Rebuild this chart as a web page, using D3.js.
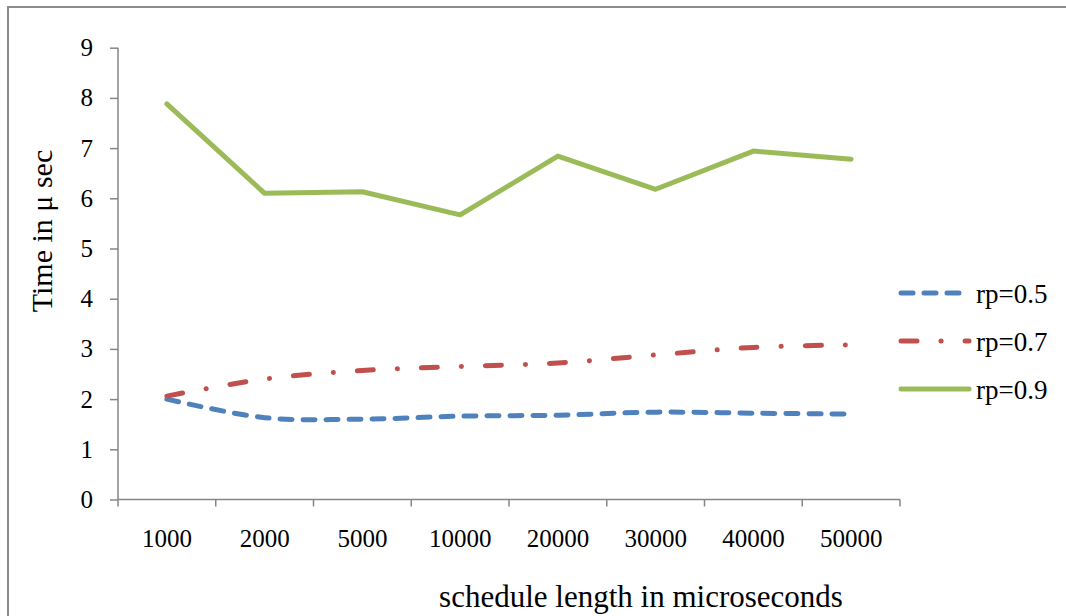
<!DOCTYPE html>
<html>
<head>
<meta charset="utf-8">
<script src="https://cdn.jsdelivr.net/npm/d3@7"></script>
<style>
  body { margin: 0; background: #fff; }
  text { font-family: "Liberation Serif", "Times New Roman", serif; fill: #000; }
</style>
</head>
<body>
<div id="container"></div>
<script>
let w = 1066;
let h = 616;

// data
let categories = ["1000", "2000", "5000", "10000", "20000", "30000", "40000", "50000"];
let rp05 = [2.0, 1.63, 1.6, 1.66, 1.68, 1.74, 1.72, 1.70];
let rp07 = [2.06, 2.40, 2.57, 2.65, 2.72, 2.88, 3.03, 3.08];
let rp09 = [7.88, 6.10, 6.13, 5.67, 6.84, 6.18, 6.94, 6.78];
let yTicks = [0, 1, 2, 3, 4, 5, 6, 7, 8, 9];
let seriesNames = ["rp=0.5", "rp=0.7", "rp=0.9"];

let series = [
  {name: seriesNames[0], values: rp05, color: "#4F81BD", dash: "12,11", smooth: true},
  {name: seriesNames[1], values: rp07, color: "#C0504D", dash: "16,24,0.1,24", smooth: true},
  {name: seriesNames[2], values: rp09, color: "#9BBB59", dash: null, smooth: false}
];

let viz = d3.select("#container")
  .append("svg")
    .attr("width", w)
    .attr("height", h)
;

// outer frame (only top and left visible in the picture)
viz.append("rect")
  .attr("x", 8).attr("y", 7)
  .attr("width", 1100).attr("height", 700)
  .attr("fill", "none")
  .attr("stroke", "#8c8c8c")
  .attr("stroke-width", 2);

let plotLeft = 118, plotRight = 900, plotTop = 47.7, plotBottom = 499.5;

let xScale = d3.scaleBand().domain(categories).range([plotLeft, plotRight]);
let yScale = d3.scaleLinear().domain([0, 9]).range([plotBottom, plotTop]);

// y axis
let yAxisGroup = viz.append("g").attr("transform", "translate(" + plotLeft + ",0)");
yAxisGroup.call(d3.axisLeft(yScale).tickValues(yTicks).tickSize(8).tickPadding(17).tickFormat(d3.format("d")));

// x axis
let xAxisGroup = viz.append("g").attr("transform", "translate(0," + plotBottom + ")");
xAxisGroup.call(d3.axisBottom(xScale).tickSize(0).tickPadding(30));
// ticks on band boundaries
let bounds = categories.map(function(c){ return xScale(c); }).concat([plotRight]);
xAxisGroup.selectAll(".bound").data(bounds).enter()
  .append("line")
    .attr("class", "bound")
    .attr("x1", function(d){ return d; })
    .attr("x2", function(d){ return d; })
    .attr("y1", 0).attr("y2", 7);

viz.selectAll(".domain, .tick line, .bound")
  .attr("stroke", "#868686")
  .attr("stroke-width", 1.5);
viz.selectAll(".tick text")
  .attr("font-size", "25px")
  .attr("font-family", "Liberation Serif, Times New Roman, serif")
  .attr("fill", "#000");
// axis lines without the outer end ticks
xAxisGroup.select(".domain").attr("d", "M" + plotLeft + ",0H" + plotRight);
yAxisGroup.select(".domain").attr("d", "M0," + plotTop + "V" + plotBottom);

// lines
series.forEach(function(s){
  let line = d3.line()
    .x(function(d, i){ return xScale(categories[i]) + xScale.bandwidth() / 2; })
    .y(function(d){ return yScale(d); })
    .curve(s.smooth ? d3.curveCatmullRom.alpha(0.5) : d3.curveLinear);
  viz.append("path")
    .datum(s.values)
    .attr("d", line)
    .attr("fill", "none")
    .attr("stroke", s.color)
    .attr("stroke-width", 5)
    .attr("stroke-linecap", "round")
    .attr("stroke-linejoin", "round")
    .attr("stroke-dasharray", s.dash);
});

// legend
let legend = viz.append("g");
series.forEach(function(s, i){
  let ly = 293 + i * 48;
  legend.append("line")
    .attr("x1", 901).attr("x2", 969)
    .attr("y1", ly).attr("y2", ly)
    .attr("stroke", s.color)
    .attr("stroke-width", 5)
    .attr("stroke-linecap", "round")
    .attr("stroke-dasharray", s.dash);
  legend.append("text")
    .attr("x", 976).attr("y", ly + 10)
    .attr("font-size", "27px")
    .text(s.name);
});

// axis titles
viz.append("text")
  .attr("x", 641).attr("y", 607)
  .attr("text-anchor", "middle")
  .attr("font-size", "31px")
  .text("schedule length in microseconds");

viz.append("text")
  .attr("transform", "translate(52,231) rotate(-90)")
  .attr("text-anchor", "middle")
  .attr("font-size", "30px")
  .text("Time in  μ sec");
</script>
</body>
</html>
